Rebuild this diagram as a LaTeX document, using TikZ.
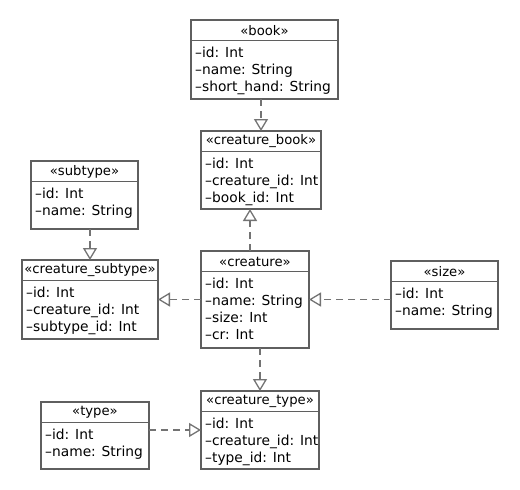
\documentclass[tikz,border=0pt]{standalone}
\usepackage{fontspec}
\setmainfont{DejaVu Sans}
\usetikzlibrary{arrows.meta}
\definecolor{boxc}{RGB}{95,95,95}
\definecolor{linec}{RGB}{115,115,115}
\tikzset{
  classbox/.style={draw=boxc, line width=1.5pt, fill=white, inner sep=0pt, outer sep=0pt, anchor=north west},
  hdrline/.style={draw=boxc, line width=1.5pt},
  classtitle/.style={inner sep=0pt, font=\fontsize{13.2}{17}\selectfont},
  classattrs/.style={inner sep=0pt, align=left, anchor=north west, font=\fontsize{13.8}{17}\selectfont},
  realize/.style={draw=linec, line width=1.5pt, dash pattern=on 7pt off 5pt, -{Triangle[open, length=12pt, width=14pt, line width=1.3pt]}}
}
\newcommand{\umlclass}[7]{%
  \node[classbox, minimum width=#4pt, minimum height=#5pt] (#1) at (#2,#3) {};
  \draw[hdrline] ([yshift=-20.5pt]#1.north west) -- ([yshift=-20.5pt]#1.north east);
  \node[classtitle] (#1-t) at ([yshift=-10.5pt]#1.north) {«#6»};
  \node[classattrs] (#1-a) at ([xshift=4pt,yshift=-27pt]#1.north west) {#7};
}
\begin{document}
\begin{tikzpicture}[x=1pt,y=-1pt]
\useasboundingbox[fill=white] (0,0) rectangle (520,490);
\umlclass{book}{191}{20}{147}{79}{book}{–id: Int\\–name: String\\–short\_hand: String}
\umlclass{cbook}{201}{131}{120}{78}{creature\_book}{–id: Int\\–creature\_id: Int\\–book\_id: Int}
\umlclass{subtype}{31}{161}{107}{68}{subtype}{–id: Int\\–name: String}
\umlclass{csub}{22}{260}{136}{79}{creature\_subtype}{–id: Int\\–creature\_id: Int\\–subtype\_id: Int}
\umlclass{creature}{201}{251}{108}{97}{creature}{–id: Int\\–name: String\\–size: Int\\–cr: Int}
\umlclass{size}{391}{261}{107}{68}{size}{–id: Int\\–name: String}
\umlclass{type}{41}{402}{108}{67}{type}{–id: Int\\–name: String}
\umlclass{ctype}{201}{391}{118}{78}{creature\_type}{–id: Int\\–creature\_id: Int\\–type\_id: Int}

\draw[realize] (book.south -| cbook.north) -- (cbook.north);
\draw[realize] ([xshift=-5pt]creature.north) -- ([xshift=-5pt]creature.north |- cbook.south);
\draw[realize] (subtype.south -| csub.north) -- (csub.north);
\draw[realize] (creature.west) -- (creature.west -| csub.east);
\draw[realize] (size.west |- creature.east) -- (creature.east);
\draw[realize] (creature.south -| ctype.north) -- (ctype.north);
\draw[realize] (type.east |- ctype.west) -- (ctype.west);
\end{tikzpicture}
\end{document}
